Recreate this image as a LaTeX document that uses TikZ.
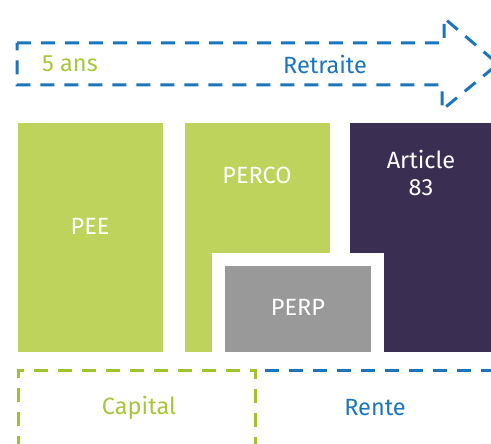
\documentclass[tikz,border=0pt]{standalone}
\usepackage{fontspec}
\setmainfont{Fira Sans}
\usepackage{tikz}
\usetikzlibrary{positioning}

\definecolor{peegreen}{HTML}{BDD35B}
\definecolor{textgreen}{HTML}{A6C73A}
\definecolor{dashgreen}{HTML}{9FC42B}
\definecolor{rblue}{HTML}{1C75BC}
\definecolor{artpurple}{HTML}{3B2E53}
\definecolor{perpgray}{HTML}{999999}

\begin{document}
\begin{tikzpicture}[x=1pt, y=-1pt, font=\fontsize{23.5}{28}\selectfont]
\tikzstyle{block} = [rectangle, inner sep=0pt, text=white, anchor=north west]
\tikzstyle{label} = [inner sep=0pt]
\tikzstyle{dashline} = [line width=3pt, dash pattern=on 14pt off 10pt]

\useasboundingbox (0,0) rectangle (491,444);

    % the arrow to retirement
    \draw[dashline, rblue, line join=miter] (17,43) -- (444,43) -- (444,18) -- (498,64)
        -- (442,110) -- (442,85) -- (17,85) -- cycle;
    \node[label, textgreen] (ans) at (70,64) {5 ans};
    \node[label, rblue] (retraite) at (325,64) {Retraite};

    % the blocks
    \node[block, fill=peegreen, minimum width=145pt, minimum height=229pt] (pee) at (18,123) {};
    \node[block, fill=peegreen, minimum width=145pt, minimum height=229pt] (perco) at (185,123) {};
    \node[block, fill=artpurple, minimum width=141pt, minimum height=229pt] (article) at (350,123) {};
    \node[block, fill=white, minimum width=172pt, minimum height=100pt] (gap) at (212,253) {};
    \node[block, fill=perpgray, minimum width=146pt, minimum height=86pt] (perp) at (225,266) {};

    \node[label, white] at (90,226) {PEE};
    \node[label, white] at (257,175) {PERCO};
    \node[label, white, align=center, font=\fontsize{23.5}{27}\selectfont] at (421,173) {Article\\83};
    \node[label, white] at (298,307) {PERP};

    % capital or annuity
    \coordinate (split) at (255,370);
    \draw[dashline, dashgreen] (18,450) |- (split) -- (255,450);
    \draw[dashline, rblue] (split) ++(10,0) -- (495,370);
    \node[label, textgreen] (capital) at (139,408) {Capital};
    \node[label, rblue] (rente) at (375,408) {Rente};

\end{tikzpicture}
\end{document}
